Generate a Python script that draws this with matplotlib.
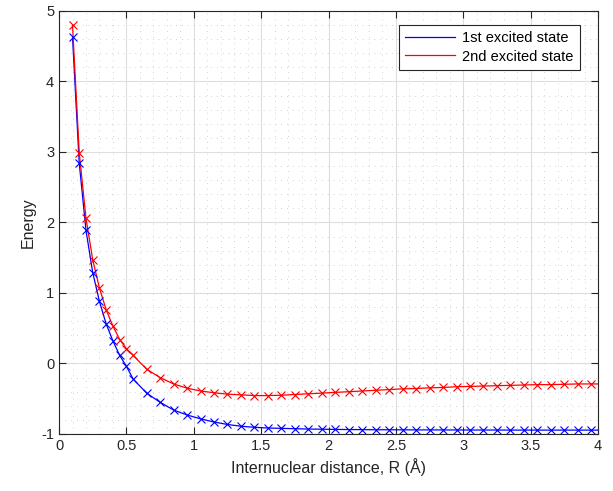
import matplotlib
matplotlib.use("Agg")
import matplotlib.pyplot as plt
from matplotlib.ticker import MultipleLocator

plt.rcParams['font.family'] = ['Liberation Sans', 'DejaVu Sans']

# internuclear distance (Angstrom); last point has no marker
R = [0.10, 0.15, 0.20, 0.25, 0.30, 0.35, 0.40, 0.45, 0.50, 0.55,
     0.65, 0.75, 0.85, 0.95, 1.05, 1.15, 1.25, 1.35, 1.45, 1.55,
     1.65, 1.75, 1.85, 1.95, 2.05, 2.15, 2.25, 2.35, 2.45, 2.55,
     2.65, 2.75, 2.85, 2.95, 3.05, 3.15, 3.25, 3.35, 3.45, 3.55,
     3.65, 3.75, 3.85, 3.95, 4.00]

E1 = [4.63, 2.84, 1.89, 1.29, 0.88, 0.56, 0.32, 0.115, -0.04, -0.22,
      -0.42, -0.55, -0.66, -0.73, -0.785, -0.83, -0.865, -0.89, -0.905, -0.915,
      -0.92, -0.925, -0.93, -0.932, -0.935, -0.937, -0.938, -0.94, -0.94, -0.941,
      -0.942, -0.942, -0.943, -0.943, -0.944, -0.944, -0.944, -0.945, -0.945, -0.945,
      -0.945, -0.945, -0.945, -0.945, -0.945]

E2 = [4.80, 2.99, 2.06, 1.47, 1.07, 0.76, 0.53, 0.34, 0.21, 0.115,
      -0.08, -0.20, -0.29, -0.35, -0.39, -0.415, -0.435, -0.445, -0.455, -0.455,
      -0.45, -0.44, -0.43, -0.42, -0.41, -0.40, -0.39, -0.38, -0.37, -0.36,
      -0.355, -0.345, -0.34, -0.33, -0.325, -0.32, -0.315, -0.31, -0.305, -0.30,
      -0.30, -0.295, -0.29, -0.29, -0.29]

labels = ['1st excited state', '2nd excited state']

fig = plt.figure(figsize=(6.13, 4.91), dpi=100)
ax = fig.add_axes([0.0963, 0.1161, 0.8792, 0.8615])

# lines (for legend) and marker overlay
ax.plot(R, E1, color='blue', lw=0.9, label=labels[0])
ax.plot(R, E2, color='red', lw=0.9, label=labels[1])
ax.plot(R[:-1], E1[:-1], ls='none', color='blue', marker='x', ms=6, mew=0.8)
ax.plot(R[:-1], E2[:-1], ls='none', color='red', marker='x', ms=6, mew=0.8)

ax.set_xlim(0, 4)
ax.set_ylim(-1, 5)
ax.xaxis.set_minor_locator(MultipleLocator(0.1))
ax.yaxis.set_minor_locator(MultipleLocator(0.2))
ax.set_xticks([0, 0.5, 1, 1.5, 2, 2.5, 3, 3.5, 4])
ax.set_xticklabels(['0', '0.5', '1', '1.5', '2', '2.5', '3', '3.5', '4'])
ax.set_yticks([-1, 0, 1, 2, 3, 4, 5])
ax.set_yticklabels(['-1', '0', '1', '2', '3', '4', '5'])

ax.grid(which='major', color='#dedede', lw=0.8, ls='-')
ax.grid(which='minor', color='#c4c4c4', lw=0.6, ls=(0, (1, 6)))
ax.set_axisbelow(True)

for s in ax.spines.values():
    s.set_color('#262626')
    s.set_linewidth(0.8)
ax.tick_params(which='both', direction='in', top=True, right=True, colors='#262626', labelsize=10.5)
ax.tick_params(which='major', length=5)
ax.tick_params(which='minor', length=0)

ax.set_xlabel('Internuclear distance, R (Å)', fontsize=11.5, color='#262626')
ax.set_ylabel('Energy', fontsize=11.5, color='#262626')

leg = ax.legend(loc='upper right', fontsize=10.5, fancybox=False, framealpha=1,
                edgecolor='#262626', handlelength=3.4, handletextpad=0.5,
                borderpad=0.45, labelspacing=0.3, bbox_to_anchor=(0.98, 0.985))
leg.get_frame().set_linewidth(0.8)

fig.savefig('out.png', dpi=100)
